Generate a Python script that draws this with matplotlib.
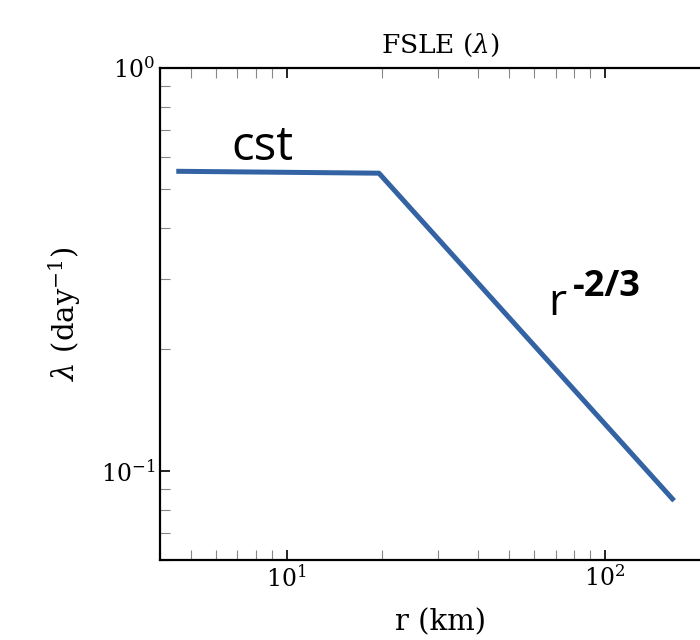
import matplotlib
matplotlib.use("Agg")
import matplotlib.pyplot as plt

r_km = [4.5, 19.5, 165.0]
fsle = [0.554, 0.548, 0.0842]

plt.rcParams['font.family'] = ['DejaVu Serif']
plt.rcParams['mathtext.fontset'] = 'dejavuserif'

fig = plt.figure(figsize=(7.0, 6.4), dpi=100)
ax = fig.add_axes([160/700, 80/640, 560/700, 492/640])
ax.plot(r_km, fsle, color='#3463a3', lw=3.6, solid_capstyle='butt')
ax.set_xscale('log')
ax.set_yscale('log')
ax.set_xlim(4, 230)
ax.set_ylim(0.06, 1.0)
ax.tick_params(which='both', direction='in', top=True, right=True, labelsize=17)
ax.tick_params(which='major', length=7, width=1.2)
ax.tick_params(which='minor', length=7, width=0.8, color='#888888')
for s in ax.spines.values():
    s.set_linewidth(1.6)
ax.set_title(r'FSLE ($\lambda$)', fontsize=19, pad=11)
ax.set_xlabel('r (km)', fontsize=21, labelpad=12)
ax.set_ylabel(r'$\lambda$ (day$^{-1}$)', fontsize=21, labelpad=13)
sans = ['Open Sans', 'DejaVu Sans']
ax.text(6.71, 0.590, 'cst', fontsize=34, family=sans, ha='left', va='baseline')
ax.text(66.2, 0.243, 'r', fontsize=32, family=sans, ha='left', va='baseline')
ax.text(79.5, 0.271, '-2/3', fontsize=26, fontweight='bold', family=sans, ha='left', va='baseline')
fig.savefig('out.png', dpi=100)
